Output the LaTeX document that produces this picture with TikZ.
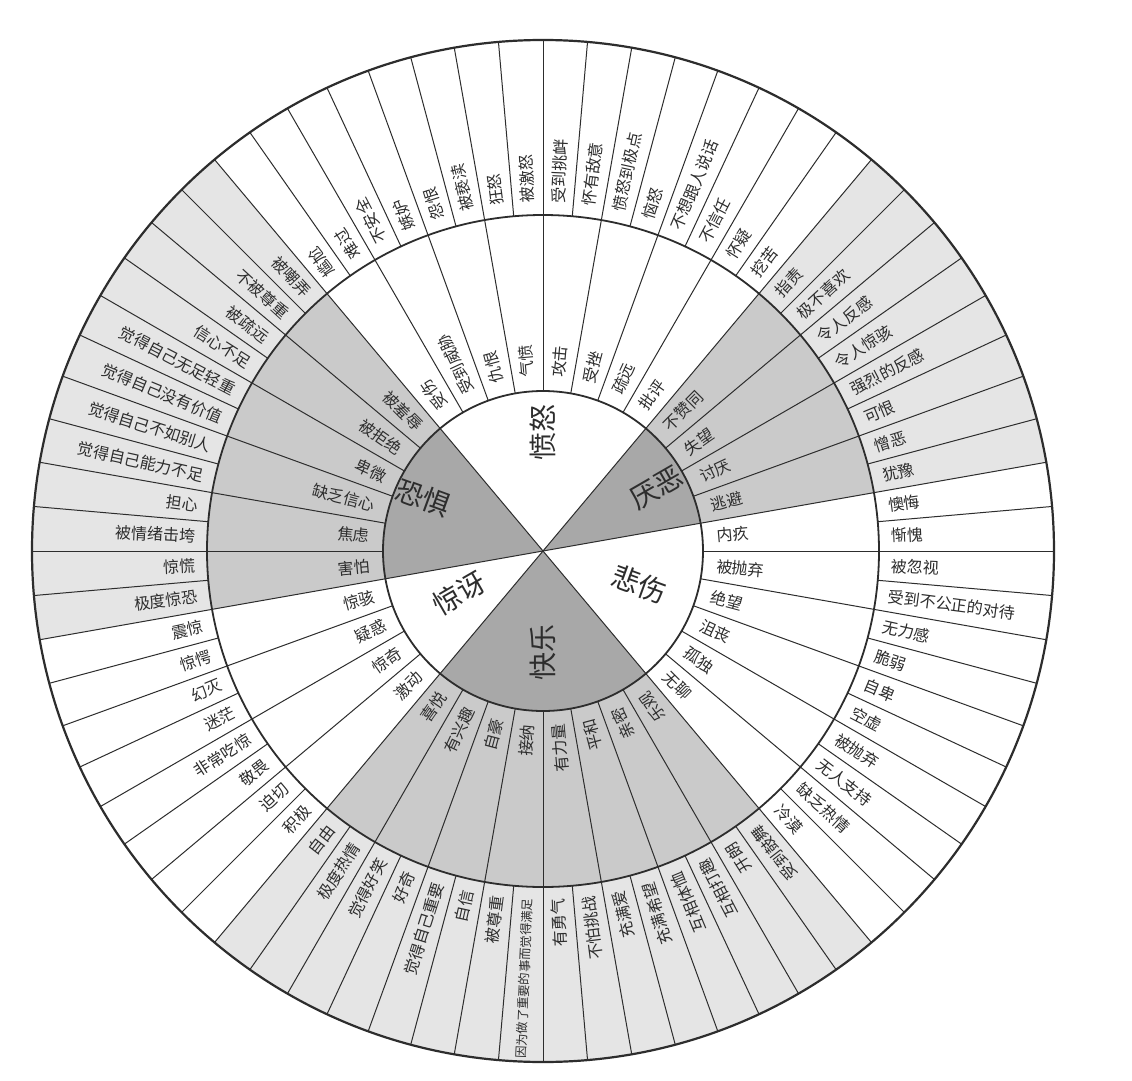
\documentclass[tikz,border=0pt]{standalone}
\usepackage{fontspec}
\setmainfont{Noto Sans CJK SC}
\definecolor{coreg}{RGB}{168,168,168}
\definecolor{midg}{RGB}{202,202,202}
\definecolor{outg}{RGB}{229,229,229}
\definecolor{ink}{RGB}{45,45,45}
\newcommand\mylongtext{{\fontsize{12.3}{14}\selectfont 因为做了重要的事而觉得满足}}
\begin{document}
\begin{tikzpicture}[x=1pt,y=1pt,
  otext/.style={inner sep=0pt,font=\fontsize{16}{18}\selectfont,text=ink},
  mtext/.style={inner sep=0pt,font=\fontsize{16}{18}\selectfont,text=ink},
  ctext/.style={inner sep=0pt,font=\fontsize{28}{30}\selectfont,text=ink},
  rline/.style={draw=ink,line width=1pt},
  ring/.style={draw=ink,line width=1.8pt}]
\useasboundingbox[fill=white] (-543,-529) rectangle (589,551);
\coordinate (C) at (0,0);
% outer ring shading
\foreach \a/\b in {10/50,130/190,230/310}{
  \fill[outg] (C) -- (\a:511pt) arc[start angle=\a,end angle=\b,radius=511pt] -- cycle;}
\fill[white] (C) circle[radius=336pt];
% middle ring shading
\foreach \a/\b in {10/50,130/190,230/310}{
  \fill[midg] (C) -- (\a:336pt) arc[start angle=\a,end angle=\b,radius=336pt] -- cycle;}
\fill[white] (C) circle[radius=160pt];
% core shading
\foreach \a/\b in {10/50,130/190,230/310}{
  \fill[coreg] (C) -- (\a:160pt) arc[start angle=\a,end angle=\b,radius=160pt] -- cycle;}
% radial lines
\foreach \a in {0,5,...,355}{\draw[rline] (\a:336pt) -- (\a:511pt);}
\foreach \a in {0,10,...,350}{\draw[rline] (\a:160pt) -- (\a:336pt);}
\foreach \a in {10,50,130,190,230,310}{\draw[rline] (C) -- (\a:160pt);}
% rings
\draw[ring] (C) circle[radius=160pt];
\draw[ring] (C) circle[radius=336pt];
\draw[ring,line width=2.2pt] (C) circle[radius=511pt];
% outer texts
\foreach \t [count=\k from 0] in {尴尬,难过,不安全,嫉妒,怨恨,被亵渎,狂怒,被激怒,受到挑衅,怀有敌意,愤怒到极点,恼怒,不想跟人说话,不信任,怀疑,挖苦,指责,极不喜欢,令人反感,令人惊骇,强烈的反感,可恨,憎恶,犹豫,懊悔,惭愧,被忽视,受到不公正的对待,无力感,脆弱,自卑,空虚,被抛弃,无人支持,缺乏热情,冷漠,受到鼓舞,开朗,互相打趣,互相体恤,充满希望,充满爱,不怕挑战,有勇气,\mylongtext,被尊重,自信,觉得自己重要,好奇,觉得好笑,极度热情,自由,积极,迫切,敬畏,非常吃惊,迷茫,幻灭,惊愕,震惊,极度惊恐,惊慌,被情绪击垮,担心,觉得自己能力不足,觉得自己不如别人,觉得自己没有价值,觉得自己无足轻重,信心不足,被疏远,不被尊重,被嘲弄}{
  \pgfmathsetmacro\ang{127.5-5*\k}
  \ifdim\ang pt>-50pt
    \node[otext,anchor=west,rotate=\ang] (o\k) at (\ang:348pt) {\t};
  \else
    \pgfmathsetmacro\angb{\ang+180}
    \node[otext,anchor=east,rotate=\angb] (o\k) at (\ang:348pt) {\t};
  \fi
}
% middle texts
\foreach \t [count=\k from 0] in {受伤,受到威胁,仇恨,气愤,攻击,受挫,疏远,批评,不赞同,失望,讨厌,逃避,内疚,被抛弃,绝望,沮丧,孤独,无聊,乐观,亲密,平和,有力量,接纳,自豪,有兴趣,喜悦,激动,惊奇,疑惑,惊骇,害怕,焦虑,缺乏信心,卑微,被拒绝,被羞辱}{
  \pgfmathsetmacro\ang{125-10*\k}
  \ifdim\ang pt>-50pt
    \node[mtext,anchor=west,rotate=\ang] (m\k) at (\ang:174pt) {\t};
  \else
    \pgfmathsetmacro\angb{\ang+180}
    \node[mtext,anchor=east,rotate=\angb] (m\k) at (\ang:174pt) {\t};
  \fi
}
% core labels
\node[ctext,rotate=90] (anger) at (90:119pt) {愤怒};
\node[ctext,rotate=30] (disgust) at (29:130pt) {厌恶};
\node[ctext,rotate=-20] (sad) at (-19:102pt) {悲伤};
\node[ctext,rotate=90] (happy) at (-90:101pt) {快乐};
\node[ctext,rotate=30] (surprise) at (207:94pt) {惊讶};
\node[ctext,rotate=-20] (fear) at (156:131pt) {恐惧};
\end{tikzpicture}
\end{document}
